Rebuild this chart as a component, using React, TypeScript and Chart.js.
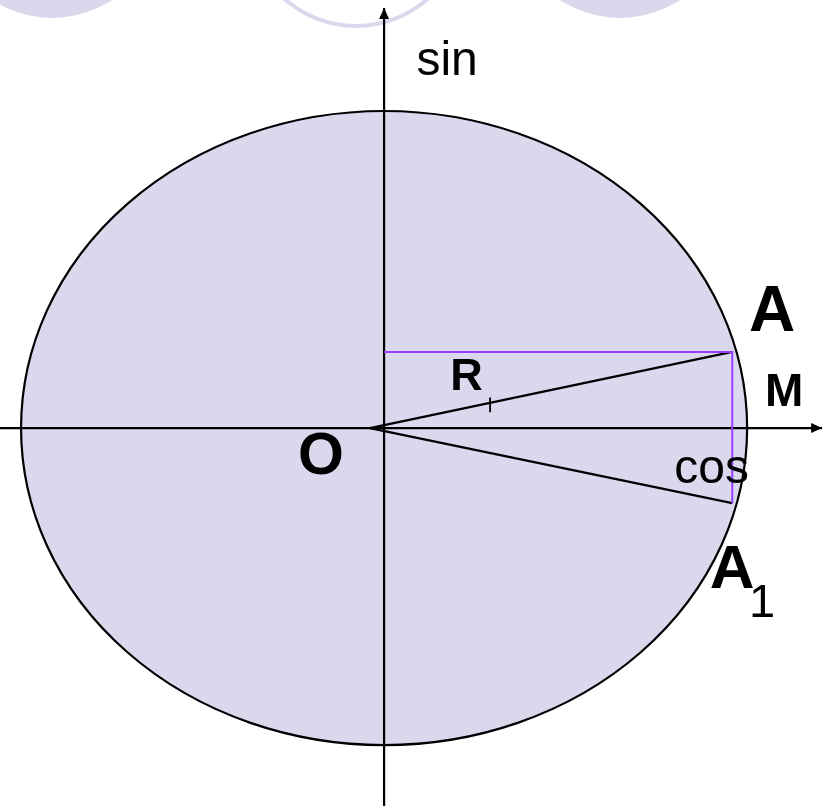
import React, { useEffect, useRef } from "react";
import { Chart, registerables } from "chart.js";

Chart.register(...registerables);

// ---- data (unit-circle coordinates) ----
const X_RANGE = [-1.058, 1.209];
const Y_RANGE = [-1.192, 1.35];
const UNIT_CENTER = [0, 0];
const UNIT_RADIUS = [1, 1];
const ORIGIN = [-0.039, 0];
const POINT_A = [0.959, 0.24];
const POINT_A1 = [0.959, -0.237];
const SIN_FOOT = [0, 0.24];
const X_AXIS = [[-1.058, 0], [1.2066, 0]];
const Y_AXIS = [[0, -1.192], [0, 1.325]];
const TICK_R = [[0.292, 0.096], [0.292, 0.05]];
const TOP_CIRCLE_CENTERS = [[-0.9146, 1.6404], [-0.0771, 1.6088], [0.6501, 1.6404]];
const TOP_CIRCLE_FILLED = [true, false, true];
const TOP_CIRCLE_RADIUS = [0.303, 0.347];

const LABEL_TEXT = ["sin", "A", "M", "R", "O", "cos", "A", "1"];
const LABEL_X = [0.1736, 1.0689, 1.1019, 0.2273, -0.1736, 0.9022, 0.9587, 1.0413];
const LABEL_Y = [1.1136, 0.306, 0.0694, 0.1199, -0.1451, -0.1735, -0.5047, -0.5962];
const LABEL_BOLD = [false, true, true, true, true, false, true, false];
const LABEL_SIZE = [48, 64, 46, 45, 59, 48, 62, 47];

const FILL = "#d9d8ed";
const PURPLE = "#9b3dff";
const FONT = "'Liberation Sans', Arial, Helvetica, sans-serif";

const pt = (p: number[]) => ({ x: p[0], y: p[1] });

export default function App() {
  const ref = useRef<HTMLCanvasElement | null>(null);

  useEffect(() => {
    if (!ref.current) return;

    const deco = {
      id: "deco",
      beforeDatasetsDraw(chart: any) {
        const { ctx, scales } = chart;
        const sx = scales.x, sy = scales.y;
        const rpx = (rx: number, ry: number, cx: number, cy: number) => [
          Math.abs(sx.getPixelForValue(cx + rx) - sx.getPixelForValue(cx)),
          Math.abs(sy.getPixelForValue(cy + ry) - sy.getPixelForValue(cy)),
        ];
        ctx.save();
        // top decorative circles
        TOP_CIRCLE_CENTERS.forEach((c, i) => {
          const [rx, ry] = rpx(TOP_CIRCLE_RADIUS[0], TOP_CIRCLE_RADIUS[1], c[0], c[1]);
          const px = sx.getPixelForValue(c[0]);
          const py = sy.getPixelForValue(c[1]);
          ctx.beginPath();
          if (TOP_CIRCLE_FILLED[i]) {
            ctx.ellipse(px, py, rx, ry, 0, 0, Math.PI * 2);
            ctx.fillStyle = FILL;
            ctx.fill();
          } else {
            ctx.ellipse(px, py, rx - 2, ry - 2, 0, 0, Math.PI * 2);
            ctx.strokeStyle = FILL;
            ctx.lineWidth = 4;
            ctx.stroke();
          }
        });
        // main circle
        const [erx, ery] = rpx(UNIT_RADIUS[0], UNIT_RADIUS[1], UNIT_CENTER[0], UNIT_CENTER[1]);
        ctx.beginPath();
        ctx.ellipse(
          sx.getPixelForValue(UNIT_CENTER[0]),
          sy.getPixelForValue(UNIT_CENTER[1]),
          erx, ery, 0, 0, Math.PI * 2
        );
        ctx.fillStyle = FILL;
        ctx.fill();
        ctx.strokeStyle = "#000";
        ctx.lineWidth = 2.2;
        ctx.stroke();
        ctx.restore();
      },
      afterDatasetsDraw(chart: any) {
        const { ctx, scales } = chart;
        const sx = scales.x, sy = scales.y;
        ctx.save();
        ctx.fillStyle = "#000";
        // arrowheads
        const xt = [sx.getPixelForValue(X_AXIS[1][0]), sy.getPixelForValue(X_AXIS[1][1])];
        ctx.beginPath();
        ctx.moveTo(xt[0], xt[1]);
        ctx.lineTo(xt[0] - 11, xt[1] - 5);
        ctx.lineTo(xt[0] - 11, xt[1] + 5);
        ctx.closePath();
        ctx.fill();
        const yt = [sx.getPixelForValue(Y_AXIS[1][0]), sy.getPixelForValue(Y_AXIS[1][1])];
        ctx.beginPath();
        ctx.moveTo(yt[0], yt[1]);
        ctx.lineTo(yt[0] - 5, yt[1] + 11);
        ctx.lineTo(yt[0] + 5, yt[1] + 11);
        ctx.closePath();
        ctx.fill();
        // labels
        ctx.textAlign = "center";
        ctx.textBaseline = "alphabetic";
        LABEL_TEXT.forEach((t, i) => {
          ctx.font = `${LABEL_BOLD[i] ? "bold " : ""}${LABEL_SIZE[i]}px ${FONT}`;
          ctx.fillText(t, sx.getPixelForValue(LABEL_X[i]), sy.getPixelForValue(LABEL_Y[i]));
        });
        ctx.restore();
      },
    };

    const line = (data: any[], color: string, width = 2) => ({
      type: "scatter" as const,
      data,
      showLine: true,
      borderColor: color,
      backgroundColor: color,
      borderWidth: width,
      pointRadius: 0,
      pointHoverRadius: 0,
      fill: false,
      tension: 0,
    });

    const chart = new Chart(ref.current, {
      type: "scatter",
      data: {
        datasets: [
          line([pt(SIN_FOOT), pt(POINT_A), pt(POINT_A1)], PURPLE, 2),
          line(X_AXIS.map(pt), "#000", 2.2),
          line(Y_AXIS.map(pt), "#000", 2.2),
          line([pt(ORIGIN), pt(POINT_A)], "#000", 2.2),
          line([pt(ORIGIN), pt(POINT_A1)], "#000", 2.2),
          line(TICK_R.map(pt), "#000", 1.8),
        ],
      },
      options: {
        animation: false,
        responsive: true,
        maintainAspectRatio: false,
        layout: { padding: 0 },
        plugins: { legend: { display: false }, tooltip: { enabled: false } },
        events: [],
        scales: {
          x: { type: "linear", min: X_RANGE[0], max: X_RANGE[1], display: false },
          y: { type: "linear", min: Y_RANGE[0], max: Y_RANGE[1], display: false },
        },
      },
      plugins: [deco],
    });
    return () => chart.destroy();
  }, []);

  return (
    <div style={{ position: "fixed", left: 0, top: 0, width: 823, height: 806, background: "#fff" }}>
      <canvas ref={ref} />
    </div>
  );
}
